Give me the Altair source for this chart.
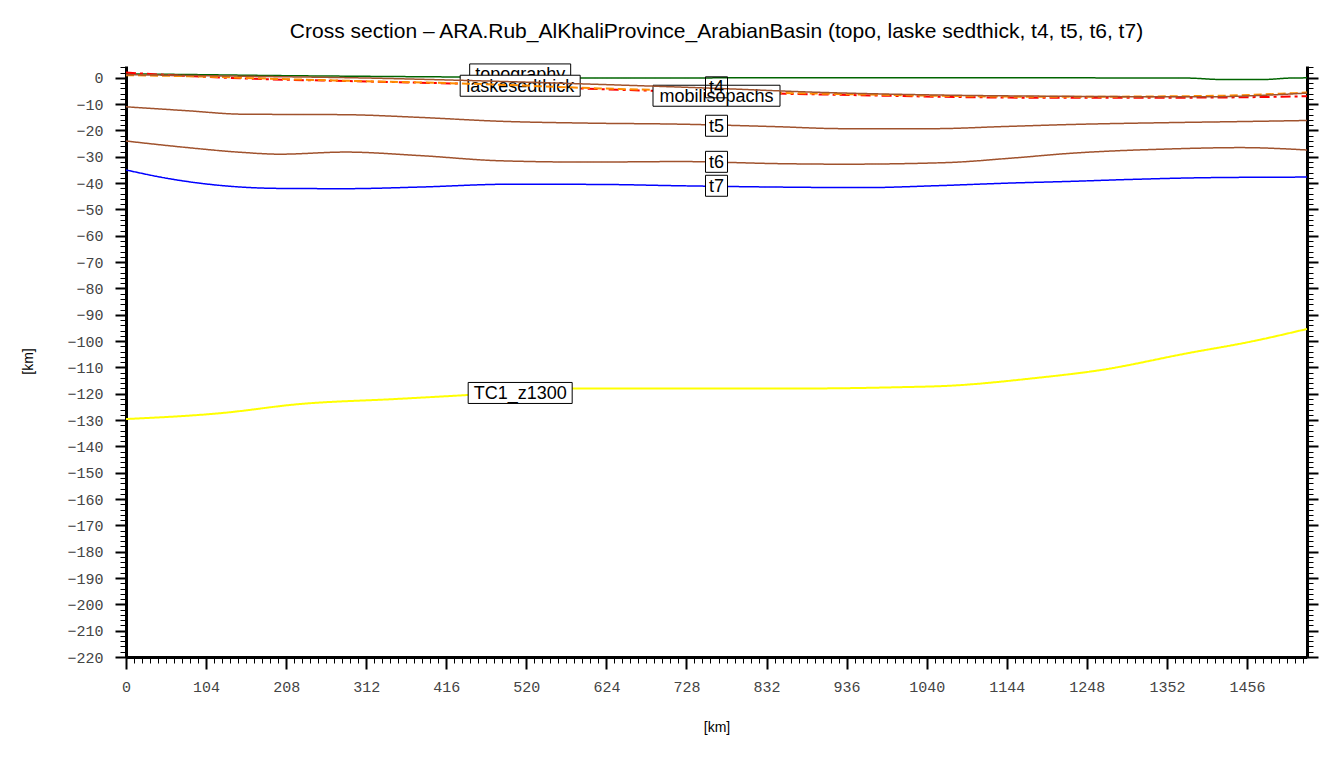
import altair as alt
import pandas as pd

# ---------------- data ----------------
topo_x = [0, 100, 183, 300, 443, 616, 800, 1000, 1200, 1380, 1420, 1480, 1510, 1534]
topo_y = [1.5, 1.2, 0.9, 0.6, 0.3, -0.1, 0.0, 0.0, 0.0, -0.1, -0.6, -0.6, -0.1, 0.0]

laske_x = [0, 60, 160, 300, 443, 616, 900, 1212, 1400, 1534]
laske_y = [2.0, 1.0, -0.3, -1.3, -2.3, -4.3, -6.3, -7.6, -7.5, -7.0]

t4_x = [0, 183, 300, 443, 616, 767, 900, 1050, 1212, 1400, 1534]
t4_y = [1.2, 0.5, 0.0, -1.0, -2.5, -4.0, -5.5, -6.5, -7.0, -7.2, -5.8]

mobil_x = [0, 100, 183, 300, 443, 616, 900, 1212, 1400, 1534]
mobil_y = [1.0, 0.5, -0.3, -1.2, -2.2, -4.0, -6.0, -7.2, -6.9, -5.6]

t5_x = [0, 80, 150, 285, 380, 486, 600, 720, 840, 932, 1049, 1140, 1230, 1357, 1450, 1534]
t5_y = [-11.0, -12.5, -13.8, -14.0, -15.0, -16.5, -17.2, -17.6, -18.5, -19.3, -19.3, -18.5,
        -17.7, -17.0, -16.6, -16.2]

t6_x = [0, 80, 150, 200, 285, 380, 486, 600, 720, 850, 932, 1065, 1150, 1230, 1357, 1448, 1534]
t6_y = [-24.0, -26.5, -28.3, -29.0, -28.2, -29.5, -31.5, -32.0, -31.8, -32.6, -32.8, -32.2,
        -30.5, -28.6, -27.0, -26.5, -27.4]

t7_x = [0, 60, 120, 200, 285, 380, 500, 620, 720, 850, 959, 1050, 1145, 1230, 1304, 1410, 1534]
t7_y = [-35.0, -38.5, -40.8, -42.0, -42.1, -41.5, -40.4, -40.5, -41.0, -41.5, -41.7, -41.0,
        -40.0, -39.3, -38.6, -37.9, -37.7]

tc1_x = [0, 122, 226, 350, 443, 590, 876, 1006, 1067, 1179, 1266, 1379, 1461, 1534]
tc1_y = [-129.6, -127.4, -123.9, -122.0, -120.5, -118.0, -118.0, -117.5, -117.0, -114.1,
         -111.0, -104.6, -100.2, -95.4]

# drawing order: each series' line, then its label
names = ["topography", "laskesedthick", "mobilisopachs", "t4", "t5", "t6", "t7", "TC1_z1300"]
label_x = [512, 512, 767, 767, 767, 767, 767, 512]
label_y = [1.3, -3.0, -6.8, -3.6, -18.2, -31.9, -41.0, -119.7]

x_major = [104 * i for i in range(15)]
x_minor = [round(10.4 * i, 1) for i in range(148)]
y_major = list(range(-220, 1, 10))
y_minor = list(range(-220, 5, 2))

# ---------------- styles ----------------
colors = ["#006400", "#ff0000", "#ff8c00", "#a0522d", "#a0522d", "#a0522d", "#0000ff", "#ffff00"]
dashes = [[1, 0], [10, 4, 3, 4], [8, 4], [1, 0], [1, 0], [1, 0], [1, 0], [1, 0]]
widths = [1.5, 2, 2, 1.5, 1.5, 1.5, 1.5, 2]
box_w = [101, 120, 127, 22, 22, 22, 22, 104]
box_fill = ["white", "white", "white", "transparent", "white", "white", "white", "white"]

xs = [topo_x, laske_x, mobil_x, t4_x, t5_x, t6_x, t7_x, tc1_x]
ys = [topo_y, laske_y, mobil_y, t4_y, t5_y, t6_y, t7_y, tc1_y]

xscale = alt.Scale(domain=[0, 1534], nice=False, zero=False)
yscale = alt.Scale(domain=[-220, 4.5], nice=False, zero=False)

layers = []
for i, nm in enumerate(names):
    df = pd.DataFrame({"d": xs[i], "v": ys[i]})
    layers.append(
        alt.Chart(df).mark_line(color=colors[i], strokeDash=dashes[i], strokeWidth=widths[i],
                                interpolate="monotone")
        .encode(x=alt.X("d:Q", scale=xscale, axis=None),
                y=alt.Y("v:Q", scale=yscale, axis=None))
    )
    lab = pd.DataFrame({"d": [label_x[i]], "v": [label_y[i]], "t": [nm]})
    layers.append(
        alt.Chart(lab).mark_rect(width=box_w[i], height=21, fill=box_fill[i], stroke="black",
                                 strokeWidth=1)
        .encode(x=alt.X("d:Q", scale=xscale, axis=None),
                y=alt.Y("v:Q", scale=yscale, axis=None))
    )
    layers.append(
        alt.Chart(lab).mark_text(font="Liberation Sans", fontSize=18, color="black",
                                 align="center", baseline="middle", dy=1)
        .encode(x=alt.X("d:Q", scale=xscale, axis=None),
                y=alt.Y("v:Q", scale=yscale, axis=None),
                text="t:N")
    )

holder = pd.DataFrame({"d": [0, 1534], "v": [-220, 4.5]})

common = dict(grid=False, domainColor="black", tickColor="black")

major_axes = alt.Chart(holder).mark_point(opacity=0).encode(
    x=alt.X("d:Q", scale=xscale,
            axis=alt.Axis(orient="bottom", values=x_major, format="d", tickSize=12, tickWidth=2,
                          domainWidth=3, labelFont="Liberation Mono", labelFontSize=15,
                          labelColor="#444444", labelPadding=10, labelFlush=False,
                          title="[km]", titleFont="Liberation Sans", titleFontSize=14,
                          titleFontWeight="normal", titleColor="black", titleY=70,
                          titleBaseline="middle", **common)),
    y=alt.Y("v:Q", scale=yscale,
            axis=alt.Axis(orient="left", values=y_major, format="d", tickSize=11, tickWidth=2,
                          domainWidth=3, labelFont="Liberation Mono", labelFontSize=15,
                          labelColor="#444444", labelPadding=12, labelFlush=False,
                          title="[km]", titleFont="Liberation Sans", titleFontSize=14,
                          titleFontWeight="normal", titleColor="black", titleAngle=270,
                          titleX=-98, titleY=295, titleAlign="center",
                          titleBaseline="middle", **common)),
)

minor_axes = alt.Chart(holder).mark_point(opacity=0).encode(
    x=alt.X("d:Q", scale=xscale,
            axis=alt.Axis(orient="bottom", values=x_minor, tickSize=6, tickWidth=1,
                          labels=False, domain=False, title="", **common)),
    y=alt.Y("v:Q", scale=yscale,
            axis=alt.Axis(orient="left", values=y_minor, tickSize=6, tickWidth=1,
                          labels=False, domain=False, title="", **common)),
)

right_major = alt.Chart(holder).mark_point(opacity=0).encode(
    x=alt.X("d:Q", scale=xscale, axis=None),
    y=alt.Y("v:Q", scale=yscale,
            axis=alt.Axis(orient="right", values=y_major, tickSize=11, tickWidth=2,
                          domainWidth=3, labels=False, title="", **common)),
)

right_minor = alt.Chart(holder).mark_point(opacity=0).encode(
    x=alt.X("d:Q", scale=xscale, axis=None),
    y=alt.Y("v:Q", scale=yscale,
            axis=alt.Axis(orient="right", values=y_minor, tickSize=6, tickWidth=1,
                          labels=False, domain=False, title="", **common)),
)

chart = (
    alt.layer(*layers, major_axes, minor_axes, right_major, right_minor)
    .resolve_axis(x="independent", y="independent")
    .properties(
        width=1181, height=591,
        autosize=alt.AutoSizeParams(type="none"),
        padding={"left": 118, "top": 58, "right": 25, "bottom": 90},
        title=alt.TitleParams(
            text="Cross section \u2013 ARA.Rub_AlKhaliProvince_ArabianBasin (topo, laske sedthick, t4, t5, t6, t7)",
            font="Liberation Sans", fontSize=21, fontWeight="normal", color="black",
            anchor="middle", offset=21),
    )
    .configure_view(stroke=None)
)

chart.save("out.html", embed_options={"renderer": "svg", "actions": False})
